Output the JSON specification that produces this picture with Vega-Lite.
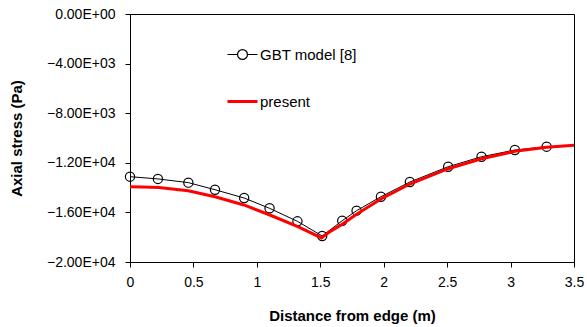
{
  "$schema": "https://vega.github.io/schema/vega-lite/v6.json",
  "autosize": "none",
  "width": 444,
  "height": 248,
  "padding": {"left": 130, "top": 14, "right": 13, "bottom": 65},
  "config": {
    "view": {"stroke": "#000", "strokeWidth": 1},
    "axis": {
      "domainColor": "#000", "tickColor": "#000", "grid": false,
      "labelFont": "Liberation Sans", "labelFontSize": 14, "labelColor": "#000",
      "titleFont": "Liberation Sans", "titleFontSize": 15, "titleFontWeight": "bold", "titleColor": "#000",
      "tickSize": 5
    }
  },
  "data": {"values": [
    {"series": "GBT model [8]", "x": 0, "y": -13120},
    {"series": "GBT model [8]", "x": 0.22, "y": -13300},
    {"series": "GBT model [8]", "x": 0.46, "y": -13600},
    {"series": "GBT model [8]", "x": 0.67, "y": -14170},
    {"series": "GBT model [8]", "x": 0.9, "y": -14840},
    {"series": "GBT model [8]", "x": 1.1, "y": -15670},
    {"series": "GBT model [8]", "x": 1.32, "y": -16720},
    {"series": "GBT model [8]", "x": 1.515, "y": -17900},
    {"series": "GBT model [8]", "x": 1.673, "y": -16670},
    {"series": "GBT model [8]", "x": 1.786, "y": -15860},
    {"series": "GBT model [8]", "x": 1.978, "y": -14735},
    {"series": "GBT model [8]", "x": 2.206, "y": -13550},
    {"series": "GBT model [8]", "x": 2.508, "y": -12315},
    {"series": "GBT model [8]", "x": 2.771, "y": -11510},
    {"series": "GBT model [8]", "x": 3.034, "y": -10970},
    {"series": "GBT model [8]", "x": 3.284, "y": -10700},
    {"series": "present", "x": 0, "y": -13930},
    {"series": "present", "x": 0.1, "y": -13950},
    {"series": "present", "x": 0.228, "y": -13990},
    {"series": "present", "x": 0.459, "y": -14250},
    {"series": "present", "x": 0.67, "y": -14740},
    {"series": "present", "x": 0.898, "y": -15400},
    {"series": "present", "x": 1.103, "y": -16210},
    {"series": "present", "x": 1.323, "y": -17150},
    {"series": "present", "x": 1.51, "y": -18060},
    {"series": "present", "x": 1.576, "y": -17550},
    {"series": "present", "x": 1.673, "y": -16960},
    {"series": "present", "x": 1.786, "y": -16150},
    {"series": "present", "x": 1.978, "y": -14920},
    {"series": "present", "x": 2.206, "y": -13710},
    {"series": "present", "x": 2.508, "y": -12475},
    {"series": "present", "x": 2.771, "y": -11670},
    {"series": "present", "x": 3.034, "y": -11075},
    {"series": "present", "x": 3.284, "y": -10750},
    {"series": "present", "x": 3.5, "y": -10590}
  ]},
  "encoding": {
    "x": {"field": "x", "type": "quantitative",
      "scale": {"domain": [0, 3.5], "nice": false, "zero": false},
      "axis": {"values": [0, 0.5, 1, 1.5, 2, 2.5, 3, 3.5], "format": "~g", "labelPadding": 8, "title": "Distance from edge (m)", "titlePadding": 19, "labelFlush": false}},
    "y": {"field": "y", "type": "quantitative",
      "scale": {"domain": [-20000, 0], "nice": false},
      "axis": {"values": [-20000, -16000, -12000, -8000, -4000, 0], "labelExpr": "replace(upper(format(datum.value, '.2e')), 'E+', 'E+0')", "labelPadding": 10, "title": "Axial stress (Pa)", "titlePadding": 22}}
  },
  "layer": [
    {
      "transform": [{"filter": "datum.series === 'GBT model [8]'"}],
      "mark": {"type": "line", "strokeWidth": 1},
      "encoding": {
        "color": {"field": "series", "type": "nominal",
          "scale": {"domain": ["GBT model [8]", "present"], "range": ["#000000", "#ff0000"]},
          "legend": {
            "title": null, "orient": "none", "legendX": 105, "legendY": 33, "padding": 0,
            "symbolSize": 900, "rowPadding": 31, "labelOffset": 10,
            "labelFont": "Liberation Sans", "labelFontSize": 15, "labelColor": "#000",
            "encode": {"symbols": {"update": {
              "shape": {"signal": "datum.value === 'present' ? 'M-1,0H1' : 'M-1,0H-0.33M0.33,0H1M0.33,0A0.33,0.33 0 1,1 -0.33,0A0.33,0.33 0 1,1 0.33,0'"},
              "strokeWidth": {"signal": "datum.value === 'present' ? 3 : 1.2"},
              "fill": {"value": "transparent"}
            }}}
          }}
      }
    },
    {
      "transform": [{"filter": "datum.series === 'GBT model [8]'"}],
      "mark": {"type": "point", "shape": "circle", "filled": false, "size": 85, "stroke": "#000", "strokeWidth": 1.2, "opacity": 1}
    },
    {
      "transform": [{"filter": "datum.series === 'present'"}],
      "mark": {"type": "line", "strokeWidth": 3},
      "encoding": {
        "color": {"field": "series", "type": "nominal"}
      }
    }
  ]
}
